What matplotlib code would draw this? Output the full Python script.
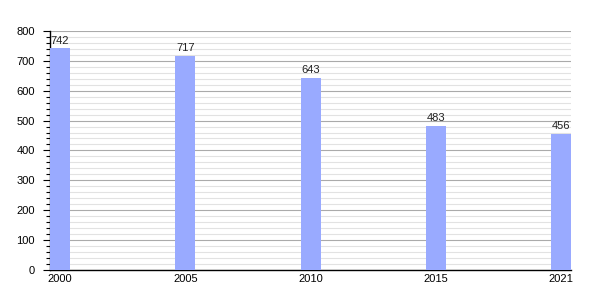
import matplotlib.pyplot as plt
import matplotlib.ticker as ticker

years = ["2000", "2005", "2010", "2015", "2021"]
population = [742, 717, 643, 483, 456]

plt.rcParams["font.family"] = ["Liberation Sans", "DejaVu Sans"]

fig = plt.figure(figsize=(6, 3), dpi=100)
ax = fig.add_axes([0.0833, 0.1, 0.8687, 0.797])

pos = list(range(len(years)))
bars = ax.bar(pos, population, width=0.16, color="#99aaff", zorder=3)
for b, v in zip(bars, population):
    ax.text(b.get_x() + b.get_width() / 2, v + 8, str(v),
            ha="center", va="bottom", fontsize=8, color="#222222", zorder=4)

ax.set_xlim(-0.08, len(years) - 1 + 0.08)
ax.set_ylim(0, 800)
ax.set_xticks(pos)
ax.set_xticklabels(years, fontsize=8)
ax.yaxis.set_major_locator(ticker.MultipleLocator(100))
ax.yaxis.set_minor_locator(ticker.MultipleLocator(20))
ax.tick_params(axis="y", which="major", length=5, width=0.8, labelsize=8, pad=6)
ax.tick_params(axis="y", which="minor", length=3, width=0.8)
ax.tick_params(axis="x", length=0, pad=3)

ax.grid(axis="y", which="major", color="#aaaaaa", linewidth=0.8, zorder=1)
ax.grid(axis="y", which="minor", color="#e2e2e2", linewidth=0.8, zorder=1)

for s in ["top", "right"]:
    ax.spines[s].set_visible(False)
ax.spines["left"].set_linewidth(1)
ax.spines["bottom"].set_linewidth(1)

fig.savefig("out.png", dpi=100)
